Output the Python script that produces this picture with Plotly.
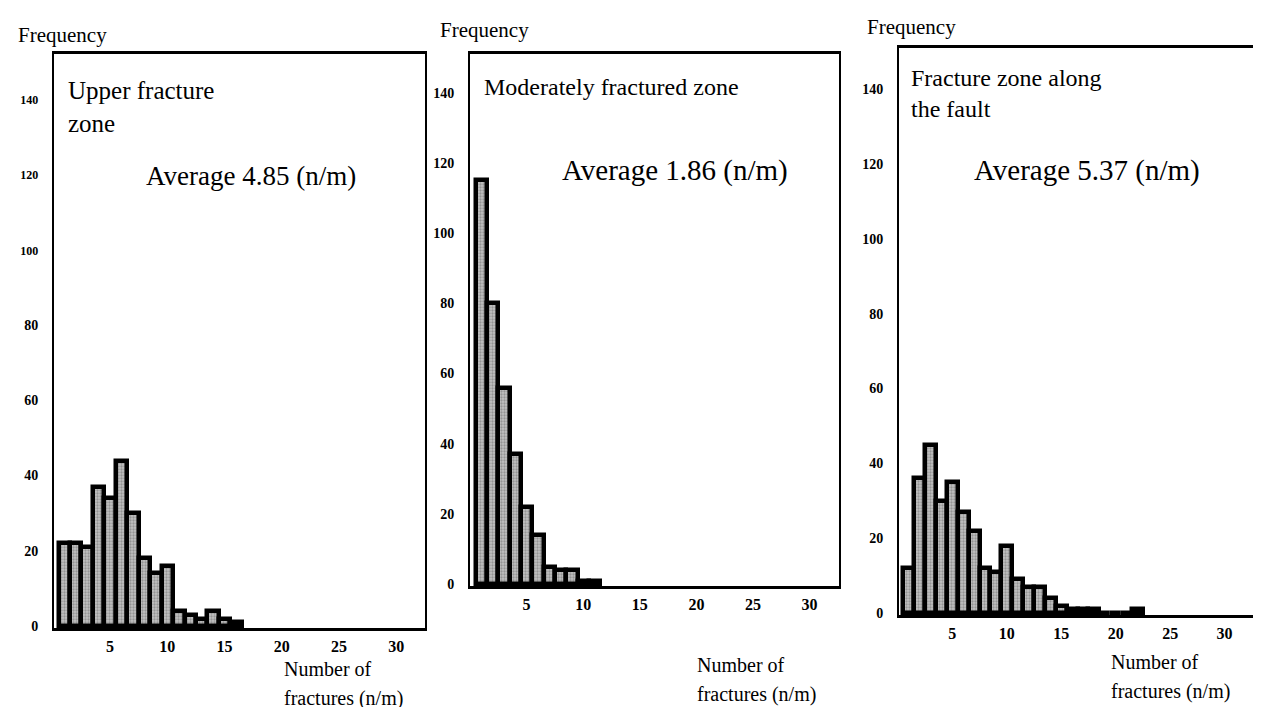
import plotly.graph_objects as go

# ---- data ----
upper_x = list(range(1, 17))
upper_freq = [22, 22, 21, 37, 34, 44, 30, 18, 14, 16, 4, 3, 2, 4, 2, 1]

moderate_x = list(range(1, 12))
moderate_freq = [115, 80, 56, 37, 22, 14, 5, 4, 4, 1, 1]

fault_x = list(range(1, 23))
fault_freq = [12, 36, 45, 30, 35, 27, 22, 12, 11, 18, 9, 7, 7, 4, 2, 1, 1, 1, 0, 0, 0, 1]

zone_titles = ["Upper fracture<br>zone", "Moderately fractured zone", "Fracture zone along<br>the fault"]
averages = ["Average 4.85 (n/m)", "Average 1.86 (n/m)", "Average 5.37 (n/m)"]
x_title_lines = ["Number of", "fractures (n/m)"]
y_ticks = [0, 20, 40, 60, 80, 100, 120, 140]
x_ticks = [5, 10, 15, 20, 25, 30]

W, H = 1261, 707
SERIF = "Liberation Serif"

def px_x(p):
    return p / W

def px_y(p):
    return 1 - p / H

# panel boxes in pixels: (left, right, top, bottom)
boxes = [(46, 417, 46, 620), (462, 831, 46, 578), (891, 1246, 40, 607)]
xranges = [[0.1, 32.5], [0.0, 32.6], [0.1, 32.7]]
yranges = [[-0.5, 152], [-0.5, 151], [-0.5, 151]]

fig = go.Figure()
series = [(upper_x, upper_freq), (moderate_x, moderate_freq), (fault_x, fault_freq)]
for i, (xs, ys) in enumerate(series):
    n = "" if i == 0 else str(i + 1)
    fig.add_trace(go.Bar(
        x=xs, y=ys, width=1.0,
        xaxis="x" + n, yaxis="y" + n,
        marker=dict(
            color="#a6a6a6",
            line=dict(color="black", width=4.5),
            pattern=dict(shape=".", fgcolor="#666666", bgcolor="#c2c2c2", size=3, solidity=0.45),
        ),
        showlegend=False,
        hoverinfo="x+y",
    ))

layout = dict(
    width=W, height=H,
    margin=dict(l=0, r=0, t=0, b=0),
    paper_bgcolor="white", plot_bgcolor="white",
    bargap=0,
    font=dict(family=SERIF, color="black"),
)
tickfont_y = dict(family=SERIF, size=14, color="black", weight="bold")
tickfont_x = dict(family=SERIF, size=16, color="black", weight="bold")
for i, (l, r, t, b) in enumerate(boxes):
    n = "" if i == 0 else str(i + 1)
    layout["xaxis" + n] = dict(
        domain=[px_x(l), px_x(r)], range=xranges[i], anchor="y" + n,
        showline=True, mirror=True, linecolor="black", linewidth=3,
        showgrid=False, zeroline=False, ticks="", tickvals=x_ticks,
        tickfont=tickfont_x, ticklabelstandoff=2, automargin=False, fixedrange=True,
    )
    layout["yaxis" + n] = dict(
        domain=[px_y(b), px_y(t)], range=yranges[i], anchor="x" + n,
        showline=True, mirror=True, linecolor="black", linewidth=2,
        showgrid=False, zeroline=False, ticks="", tickvals=y_ticks,
        tickfont=tickfont_y, ticklabelstandoff=11, automargin=False, fixedrange=True,
    )
# the upper-fracture panel prints its top three tick labels in a smaller type
layout["yaxis"]["ticktext"] = [str(v) if v < 100 else '<span style="font-size:12px">%d</span>' % v for v in y_ticks]
fig.update_layout(**layout)

ann = []

def add_text(txt, xpx, ypx, size):
    ann.append(dict(text=txt, x=px_x(xpx), y=px_y(ypx), xref="paper", yref="paper",
                    xanchor="left", yanchor="middle", align="left", showarrow=False,
                    font=dict(family=SERIF, size=size)))

# "Frequency" labels above each panel
for xpx, ypx in [(8, 27), (430, 22), (857, 19)]:
    add_text("Frequency", xpx, ypx, 21)

# zone titles
for txt, (xpx, ypx, fs) in zip(zone_titles, [(58, 99, 25), (474, 79, 24), (901, 86, 24)]):
    add_text(txt, xpx, ypx, fs)

# averages
for txt, (xpx, ypx, fs) in zip(averages, [(136, 168, 27), (552, 162, 29), (964, 162, 29)]):
    add_text(txt, xpx, ypx, fs)

# x axis titles
for xpx, y1, y2 in [(274, 661, 690), (687, 657, 686), (1101, 654, 683)]:
    add_text(x_title_lines[0], xpx, y1, 20)
    add_text(x_title_lines[1], xpx, y2, 20)

fig.update_layout(annotations=ann)

fig.write_html("out.html")
